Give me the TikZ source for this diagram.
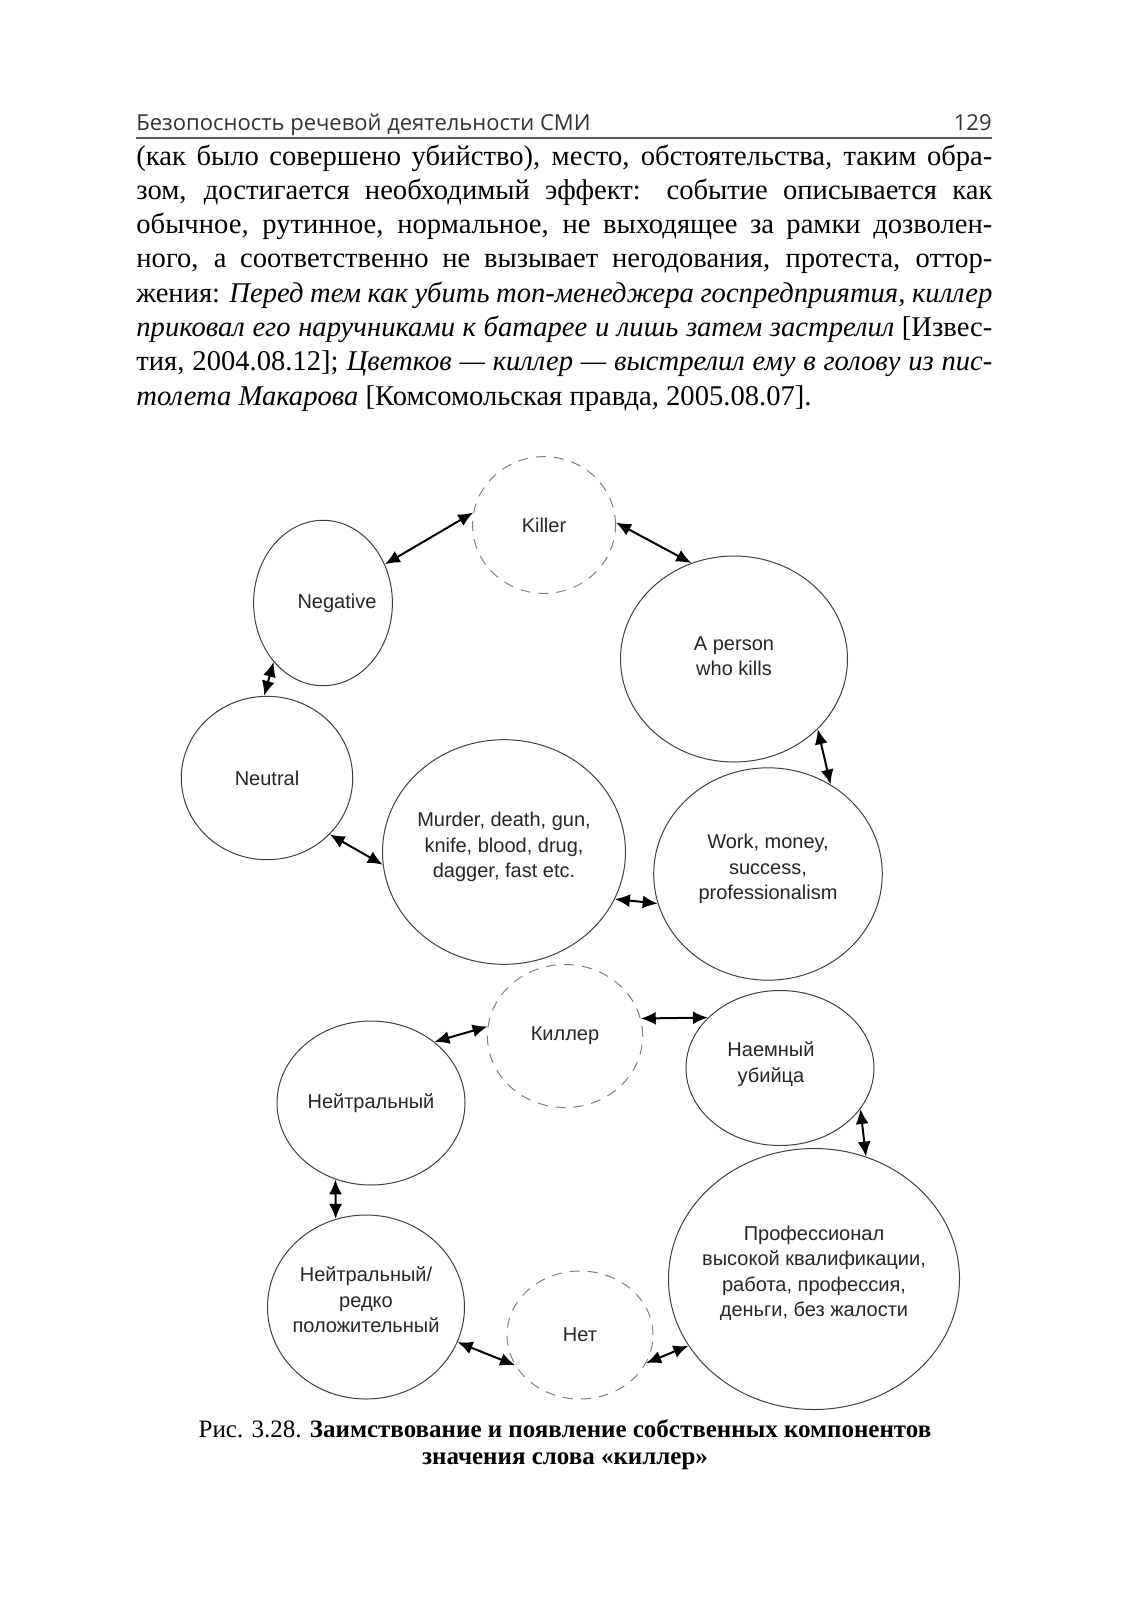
\documentclass[tikz,border=0pt]{standalone}
\usepackage{fontspec}
\setmainfont{Liberation Serif}
\newfontfamily\diagfont{Liberation Sans}
\newfontfamily\headfont{Open Sans}
\usetikzlibrary{arrows.meta, shapes.geometric}

\begin{document}
\begin{tikzpicture}[x=0.5pt, y=-0.5pt,
    bubble/.style={ellipse, draw=black!75, line width=0.5pt, inner sep=0pt},
    dbubble/.style={bubble, draw=black!50, dash pattern=on 5pt off 4pt},
    lbl/.style={font=\diagfont\fontsize{10}{12.75}\selectfont, align=center, text=black!85},
    txtline/.style={anchor=base west, inner sep=0pt, font=\fontsize{14.3}{17}\selectfont},
    link/.style={{Latex[length=7.5pt,width=6.5pt]}-{Latex[length=7.5pt,width=6.5pt]}, line width=1pt}]

  \path[use as bounding box, fill=white] (0,0) rectangle (1130,1601);

  % page header
  \node[font=\headfont\fontsize{11}{13}\selectfont, text=black!80, anchor=base west, inner sep=0pt]
    (head) at (136,130) {Безопосность речевой деятельности СМИ};
  \node[font=\headfont\fontsize{11}{13}\selectfont, text=black!80, anchor=base east, inner sep=0pt]
    (pageno) at (992,130) {129};
  \draw[line width=1.2pt, black!65] (136,138) -- (992,138);

  % running text, one justified line at a time
  \foreach \i/\ln in {
      0/{(как было совершено убийство), место, обстоятельства, таким обра-},
      1/{зом, достигается необходимый эффект: событие описывается как},
      2/{обычное, рутинное, нормальное, не выходящее за рамки дозволен-},
      3/{ного, а соответственно не вызывает негодования, протеста, оттор-},
      4/{жения: \textit{Перед тем как убить топ-менеджера госпредприятия, киллер}},
      5/{\textit{приковал его наручниками к батарее и лишь затем застрелил} [Извес-},
      6/{тия, 2004.08.12]; \textit{Цветков — киллер — выстрелил ему в голову из пис-}}}{
    \node[txtline] (line\i) at (136,{165+\i*34.3}) {\makebox[428pt][s]{\ln}};
  }
  \node[txtline] (line7) at (136,{165+7*34.3})
    {\textit{толета Макарова} [Комсомольская правда, 2005.08.07].};

  % english components
  \node[dbubble, minimum width=71.5pt, minimum height=68.4pt,
        label={[lbl]center:Killer}] (killer) at (544,525) {};
  \node[bubble, minimum width=69.4pt, minimum height=82.7pt,
        label={[lbl, xshift=7pt]center:Negative}] (neg) at (323,603) {};
  \node[bubble, minimum width=113.5pt, minimum height=103pt,
        label={[lbl, yshift=1.5pt]center:{A person\\who kills}}] (person) at (734,659) {};
  \node[bubble, minimum width=85.7pt, minimum height=81.7pt,
        label={[lbl]center:Neutral}] (neutral) at (267,778) {};
  \node[bubble, minimum width=121.5pt, minimum height=112.3pt,
        label={[lbl, yshift=2.5pt]center:{Murder, death, gun,\\knife, blood, drug,\\dagger, fast etc.}}] (murder) at (504,852) {};
  \node[bubble, minimum width=114.3pt, minimum height=106.2pt,
        label={[lbl, yshift=2.5pt]center:{Work, money,\\success,\\professionalism}}] (work) at (768,874) {};

  % russian components
  \node[dbubble, minimum width=77.6pt, minimum height=71.5pt,
        label={[lbl]center:Киллер}] (killerru) at (565,1036) {};
  \node[bubble, minimum width=94pt, minimum height=77.5pt,
        label={[lbl, xshift=-4.5pt, yshift=2pt]center:{Наемный\\убийца}}] (hired) at (780,1068) {};
  \node[bubble, minimum width=94pt, minimum height=82pt,
        label={[lbl]center:Нейтральный}] (neut) at (371,1103) {};
  \node[bubble, minimum width=98.5pt, minimum height=92pt,
        label={[lbl, yshift=3.5pt]center:{Нейтральный/\\редко\\положительный}}] (neutrare) at (366,1307) {};
  \node[dbubble, minimum width=73pt, minimum height=64pt,
        label={[lbl]center:Нет}] (net) at (580,1335) {};
  \node[bubble, minimum width=145.5pt, minimum height=130.5pt,
        label={[lbl, yshift=3pt]center:{Профессионал\\высокой квалификации,\\работа, профессия,\\деньги, без жалости}}] (prof) at (814,1279) {};

  \draw[link] (neg.32) -- (killer.170);
  \draw[link] (killer.2) -- (person.114);
  \draw[link] (neg.230) -- (neutral.92);
  \draw[link] (person.320) -- (work.55);
  \draw[link] (neutral.318) -- (murder.186);
  \draw[link] (murder.337) -- (work.195);

  \draw[link] (neut.44) -- (killerru.173);
  \draw[link] (killerru.13) -- (hired.145);
  \draw[link] (neut.245) -- (neutrare.109);
  \draw[link] (hired.333) -- (prof.67);
  \draw[link] (neutrare.339) -- (net.205);
  \draw[link] (net.337) -- (prof.208);

  % caption
  \node[font=\fontsize{12.5}{13.5}\selectfont, align=center, anchor=north, inner sep=0pt] (caption) at (565,1419)
    {Рис. 3.28. \textbf{Заимствование и появление собственных компонентов}\\
     \textbf{значения слова «киллер»}};
\end{tikzpicture}
\end{document}
